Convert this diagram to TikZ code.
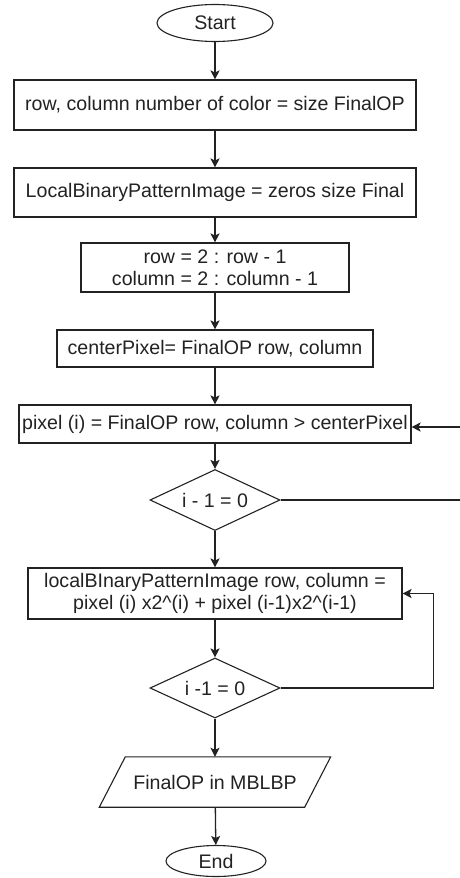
\documentclass[tikz,border=0pt]{standalone}
\usepackage{fontspec}
\setmainfont{Liberation Sans}
\usetikzlibrary{shapes.geometric,arrows.meta}
\definecolor{ink}{HTML}{222222}
\begin{document}
\begin{tikzpicture}[x=1pt,y=-1pt,
  every node/.style={font=\fontsize{19.6}{22}\selectfont, text=ink, inner sep=0pt, align=center},
  proc/.style={draw=ink, line width=1.1pt, rectangle},
  term/.style={draw=ink, line width=1.1pt, ellipse},
  dec/.style={draw=ink, line width=1.1pt, diamond, aspect=2.1},
  arr/.style={draw=ink, line width=1.3pt, -{Stealth[length=9pt,width=9pt,inset=2pt]}},
  ln/.style={draw=ink, line width=1.1pt}]
\useasboundingbox (0,0) rectangle (460,878);
\node[term, minimum width=116, minimum height=37] (start) at (215,23) {Start};
\node[proc, minimum width=402, minimum height=50] (b1) at (215,105) {row, column number of color = size FinalOP};
\node[proc, minimum width=402, minimum height=49] (b2) at (215,192.5) {LocalBinaryPatternImage = zeros size Final};
\node[proc, minimum width=268, minimum height=49] (b3) at (215,267.5) {row = 2 : row - 1\\column = 2 : column - 1};
\node[proc, minimum width=316, minimum height=37] (b4) at (215,348.5) {centerPixel= FinalOP row, column};
\node[proc, minimum width=392, minimum height=38] (b5) at (215,424) {pixel (i) = FinalOP row, column > centerPixel};
\node[dec, minimum width=130, minimum height=61] (d1) at (215,500) {i - 1 = 0};
\node[proc, minimum width=374, minimum height=51] (b6) at (215,593.5) {localBInaryPatternImage row, column =\\pixel (i) x2\^{}(i) + pixel (i-1)x2\^{}(i-1)};
\node[dec, minimum width=130, minimum height=60] (d2) at (215,688) {i -1 = 0};
\node[minimum width=205, minimum height=50] (para) at (215,782) {FinalOP in MBLBP};
\draw[ln] ([xshift=-13]para.south west) -- ([xshift=13]para.north west) -- ([xshift=13]para.north east) -- ([xshift=-13]para.south east) -- cycle;
\node[term, minimum width=100, minimum height=31] (end) at (216,861) {End};
\coordinate (r1) at (460,500);
\coordinate (r2) at (460,427);
\draw[arr] (start) -- (b1);
\draw[arr] (b1) -- (b2);
\draw[arr] (b2) -- (b3);
\draw[arr] (b3) -- (b4);
\draw[arr] (b4) -- (b5);
\draw[arr] (b5) -- (d1);
\draw[arr] (d1) -- (b6);
\draw[arr] (b6) -- (d2);
\draw[arr] (d2) -- (para);
\draw[arr] (para) -- (end);
\draw[ln] (d1.east) -- (r1);
\draw[arr] (r2) -- (b5.east |- r2);
\draw[arr] (d2.east) -| ([xshift=31]b6.east) -- (b6.east);
\end{tikzpicture}
\end{document}
